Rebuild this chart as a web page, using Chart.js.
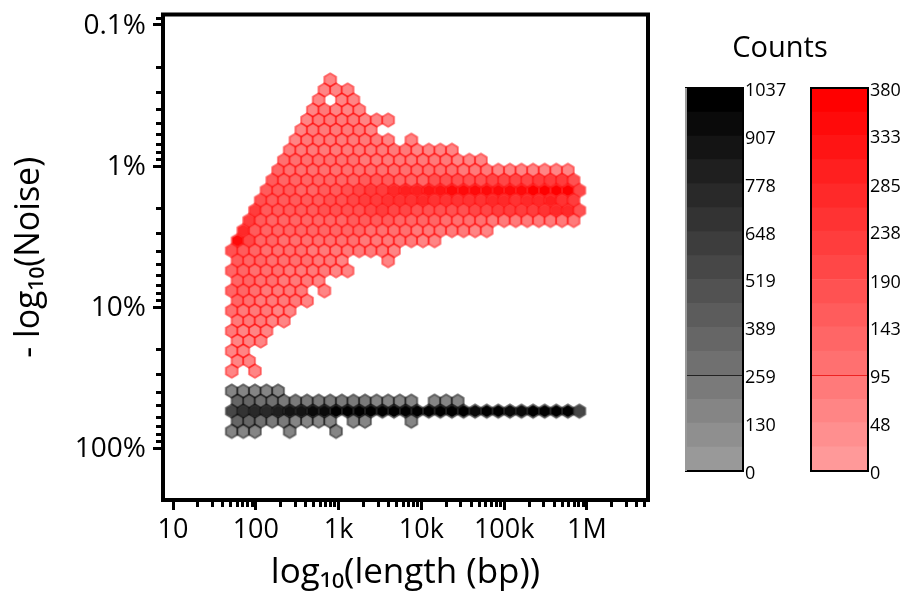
<!DOCTYPE html>
<html>
<head>
<meta charset="utf-8">
<script src="https://cdn.jsdelivr.net/npm/chart.js@4/dist/chart.umd.min.js"></script>
<style>
  html, body { margin: 0; background: #fff; }
  canvas { position: absolute; }
  #countsTitle { position: absolute; left: 680px; width: 200px; top: 27px; text-align: center;
    font: 29px "Open Sans"; color: #000; line-height: 38px; }
</style>
</head>
<body>
<canvas id="hexChart" width="907" height="596" style="left:0;top:0"></canvas>
<canvas id="grayBar" width="125" height="420" style="left:685px;top:70px"></canvas>
<canvas id="redBar" width="97" height="420" style="left:810px;top:70px"></canvas>
<div id="countsTitle">Counts</div>
<script>
// hex centres, log10 units
const lengthLog10 = [1.709,1.779,1.849,1.919,1.989,2.059,2.129,2.199,2.269,2.339,2.409,2.479,2.549,2.619,2.689,2.759,2.829,2.899,2.969,3.039,3.109,3.179,3.249,3.319,3.389,3.459,3.529,3.599,3.669,3.739,3.809,3.879,3.949,4.019,4.089,4.159,4.229,4.299,4.369,4.439,4.509,4.579,4.649,4.719,4.789,4.859,4.929,4.999,5.069,5.139,5.209,5.279,5.349,5.419,5.489,5.559,5.629,5.699,5.769,5.839,5.909];
const noiseLog10 = [-0.610,-0.539,-0.468,-0.397,-0.326,-0.255,-0.183,-0.112,-0.041,0.030,0.101,0.172,0.243,0.314,0.385,0.457,0.528,0.599,0.670,0.741,0.812,0.883,0.954,1.025,1.096,1.168,1.239,1.310,1.381,1.452,1.523,1.594,1.665,1.736,1.807,1.879];

// first column of each row, counts run every second column, 0 = empty cell
const redRowStart = [17,16,15,14,13,12,11,10,9,8,7,6,5,4,3,2,1,0,1,0,1,0,1,0,1,0,1,0,1,0];
const redCounts = [
  [60],
  [55,60,50],
  [60,0,60,55],
  [70,75,70,70,55],
  [70,75,80,75,75,70,60,55],
  [70,80,80,80,75,75,55],
  [70,85,85,85,85,80,80,75,60,0,60],
  [95,95,90,90,90,90,85,85,85,80,75,70,70,65,60],
  [115,105,100,100,100,100,100,95,95,95,90,90,85,80,75,70,65,60],
  [125,115,110,110,110,110,115,115,115,115,110,110,105,105,100,100,95,90,85,70,65,60,60,60,60,60],
  [150,130,125,125,125,130,135,140,150,150,145,140,140,135,170,175,180,185,190,195,200,205,210,220,225,230,190],
  [165,150,145,140,140,145,160,175,195,215,235,285,300,305,315,325,335,345,340,335,335,340,355,375,380,380,375,210],
  [185,165,155,150,150,160,175,190,205,220,235,240,255,260,265,260,255,250,250,255,265,265,260,270,280,290,260,215],
  [215,165,150,145,150,155,170,170,185,190,205,215,205,200,190,180,175,175,170,195,210,215,225,225,225,240,265,275,170],
  [220,155,140,135,135,135,140,135,140,150,150,150,150,140,130,125,120,110,105,105,100,90,90,85,85,85,85,80,75],
  [270,150,130,125,120,120,125,125,120,120,120,115,115,105,100,95,90,85,80,75,70,65],
  [340,210,135,125,115,110,110,110,110,105,100,95,90,85,80,75,70,65],
  [175,145,125,115,110,105,100,90,80,85,85,85,85,75,70],
  [150,140,135,115,110,105,100,90,80,65,0,0,0,60],
  [135,125,115,105,100,95,90,85,75,65,55],
  [120,130,105,100,95,90,75,65],
  [120,125,105,95,85,80,75,0,60],
  [130,105,95,85,75,75,60],
  [105,95,85,80,70,60],
  [85,80,75,70,60],
  [75,70,70,60],
  [65,65,55],
  [60,55],
  [60,55],
  [60,0,55]
];

const grayRowFirst = 31; // noiseLog10 index of the first gray row
const grayRowStart = [0,1,0,1,0];
const grayCounts = [
  [170,165,165,165,165],
  [380,340,310,280,250,240,230,220,210,205,200,195,190,185,180,175,0,170,165,165],
  [530,650,720,770,830,860,860,920,930,980,1037,1000,1037,1030,1037,1037,1037,985,1037,990,1037,960,1037,1037,940,950,1037,1037,1037,1037,560],
  [380,350,300,240,200,190,180,170,160,0,165,160,0,0,0,165],
  [170,170,170,0,0,170,0,0,0,170]
];

const xTicks = [10,20,30,40,50,60,70,80,90,100,200,300,400,500,600,700,800,900,1e3,2e3,3e3,4e3,5e3,6e3,7e3,8e3,9e3,1e4,2e4,3e4,4e4,5e4,6e4,7e4,8e4,9e4,1e5,2e5,3e5,4e5,5e5,6e5,7e5,8e5,9e5,1e6,2e6,3e6,4e6,5e6];
const xMajor = [10,100,1e3,1e4,1e5,1e6];
const xLabels = ['10','100','1k','10k','100k','1M'];
const yTicks = [0.09,0.1,0.2,0.3,0.4,0.5,0.6,0.7,0.8,0.9,1,2,3,4,5,6,7,8,9,10,20,30,40,50,60,70,80,90,100];
const yMajor = [0.1,1,10,100];
const yLabels = ['0.1%','1%','10%','100%'];

const grayBandTops = [65,130,194,259,324,389,454,519,583,648,713,778,843,907,972,1037];
const grayBandColors = ['#999999','#8f8f8f','#858585','#7a7a7a','#707070','#666666','#5c5c5c','#525252','#474747','#3d3d3d','#333333','#292929','#1f1f1f','#141414','#0a0a0a','#000000'];
const grayTicks = [0,130,259,389,519,648,778,907,1037];

const redBandTops = [24,48,71,95,119,143,166,190,214,238,261,285,309,333,356,380];
const redBandColors = ['#ff9999','#ff8f8f','#ff8585','#ff7a7a','#ff7070','#ff6666','#ff5c5c','#ff5252','#ff4747','#ff3d3d','#ff3333','#ff2929','#ff1f1f','#ff1414','#ff0a0a','#ff0000'];
const redTicks = [0,48,95,143,190,238,285,333,380];

const sprites = {};
function hexPath(g, r) {
  g.beginPath();
  for (let i = 0; i < 6; i++) {
    const a = Math.PI / 3 * i + Math.PI / 6;
    g.lineTo(9 + r * Math.cos(a), 9 + r * Math.sin(a));
  }
  g.closePath();
}
function hexSprite(fill, stroke) {
  const key = fill + stroke;
  if (sprites[key]) return sprites[key];
  const c = document.createElement('canvas');
  c.width = 18; c.height = 18;
  const g = c.getContext('2d');
  // fill stays inside the edge so a neighbour's outline is not painted over
  hexPath(g, 6.1);
  g.fillStyle = fill;
  g.fill();
  hexPath(g, 6.69);
  g.strokeStyle = stroke;
  g.lineWidth = 1.8;
  g.stroke();
  sprites[key] = c;
  return c;
}

function bandColor(count, tops, colors) {
  const i = tops.findIndex(t => count <= t);
  return colors[i < 0 ? colors.length - 1 : i];
}

function buildPoints(counts, starts, firstRow) {
  const pts = [];
  counts.forEach((row, r) => {
    row.forEach((count, i) => {
      if (!count) return;
      pts.push({
        x: Math.pow(10, lengthLog10[starts[r] + i * 2]),
        y: Math.pow(10, noiseLog10[firstRow + r]),
        count: count
      });
    });
  });
  return pts;
}

// frame round the plot area
const framePlugin = {
  id: 'frame',
  afterDraw(chart, args, opts) {
    const a = chart.chartArea, ctx = chart.ctx;
    ctx.save();
    ctx.lineWidth = opts.width;
    ctx.strokeStyle = '#000';
    ctx.strokeRect(a.left, a.top, a.right - a.left, a.bottom - a.top);
    if (opts.leftColor) {
      ctx.strokeStyle = opts.leftColor;
      ctx.beginPath();
      ctx.moveTo(a.left, a.top);
      ctx.lineTo(a.left, a.bottom);
      ctx.stroke();
    }
    ctx.restore();
  }
};

new Chart(document.getElementById('hexChart'), {
  type: 'scatter',
  data: {
    datasets: [
      {
        data: buildPoints(grayCounts, grayRowStart, grayRowFirst),
        pointStyle: ctx => hexSprite(bandColor(ctx.raw.count, grayBandTops, grayBandColors), 'rgba(0,0,0,0.62)')
      },
      {
        data: buildPoints(redCounts, redRowStart, 0),
        pointStyle: ctx => hexSprite(bandColor(ctx.raw.count, redBandTops, redBandColors), 'rgba(255,0,0,0.62)')
      }
    ]
  },
  plugins: [framePlugin],
  options: {
    responsive: false,
    animation: false,
    events: [],
    layout: { padding: { top: 14.5, right: 259 } },
    plugins: {
      legend: { display: false },
      tooltip: { enabled: false },
      frame: { width: 4 }
    },
    scales: {
      x: {
        type: 'logarithmic',
        min: 7.57,
        max: 5460000,
        afterBuildTicks: s => { s.ticks = xTicks.map(v => ({ value: v })); },
        afterFit: s => { s.height = 96; s.paddingLeft = 0; s.paddingRight = 0; },
        border: { display: false },
        grid: {
          drawOnChartArea: false,
          tickLength: 10,
          tickWidth: 3,
          tickColor: '#000',
          tickBorderDash: c => xMajor.includes(c.tick.value) ? [] : [7, 100]
        },
        ticks: {
          autoSkip: false,
          maxRotation: 0,
          padding: 4,
          color: '#000',
          font: { family: 'Open Sans', size: 27 },
          callback: v => { const i = xMajor.indexOf(v); return i < 0 ? '' : xLabels[i]; }
        },
        title: {
          display: true,
          text: 'log₁₀(length (bp))',
          color: '#000',
          font: { family: 'Open Sans', size: 35 },
          padding: { top: 0, bottom: 2 }
        }
      },
      y: {
        type: 'logarithmic',
        reverse: true,
        min: 0.0843,
        max: 232,
        afterBuildTicks: s => { s.ticks = yTicks.map(v => ({ value: v })); },
        // zero the label overflow, otherwise the plot area gets pushed down
        afterFit: s => { s.width = 163; s.paddingTop = 0; s.paddingBottom = 0; },
        border: { display: false },
        grid: {
          drawOnChartArea: false,
          tickLength: 10,
          tickWidth: 3,
          tickColor: '#000',
          tickBorderDash: c => yMajor.includes(c.tick.value) ? [] : [0, 3, 7, 100]
        },
        ticks: {
          autoSkip: false,
          padding: 7,
          labelOffset: 1,
          color: '#000',
          font: { family: 'Open Sans', size: 28 },
          callback: v => { const i = yMajor.indexOf(v); return i < 0 ? '' : yLabels[i]; }
        },
        title: {
          display: true,
          text: '- log₁₀(Noise)',
          color: '#000',
          font: { family: 'Open Sans', size: 34 },
          padding: { top: 9, bottom: 0 }
        }
      }
    }
  }
});

function colorBar(id, tops, colors, ticks, max, plotWidth, leftColor, lineColor) {
  new Chart(document.getElementById(id), {
    type: 'bar',
    data: {
      labels: [''],
      datasets: tops.map((t, i) => ({
        data: [t - (i ? tops[i - 1] : 0)],
        backgroundColor: colors[i],
        borderWidth: 0,
        categoryPercentage: 1,
        barPercentage: 1
      }))
    },
    plugins: [framePlugin],
    options: {
      responsive: false,
      animation: false,
      events: [],
      layout: { padding: { top: 18, bottom: 19, left: 1 } },
      plugins: {
        legend: { display: false },
        tooltip: { enabled: false },
        frame: { width: 2, leftColor: leftColor }
      },
      scales: {
        x: { stacked: true, display: false },
        y: {
          stacked: true,
          position: 'right',
          min: 0,
          max: max,
          afterBuildTicks: s => { s.ticks = ticks.map(v => ({ value: v })); },
          afterFit: s => { s.width = s.chart.width - plotWidth - 1; },
          border: { display: false },
          grid: {
            z: 1,
            drawTicks: false,
            lineWidth: 1,
            color: c => c.tick && c.tick.value === ticks[2] ? lineColor : 'rgba(0,0,0,0)'
          },
          ticks: {
            autoSkip: false,
            padding: 2,
            labelOffset: 3,
            color: '#000',
            font: { family: 'Open Sans', size: 18 },
            callback: v => String(v)
          }
        }
      }
    }
  });
}

colorBar('grayBar', grayBandTops, grayBandColors, grayTicks, 1037, 57, '#999999', '#222222');
colorBar('redBar', redBandTops, redBandColors, redTicks, 380, 57, null, '#ee2222');
</script>
</body>
</html>
